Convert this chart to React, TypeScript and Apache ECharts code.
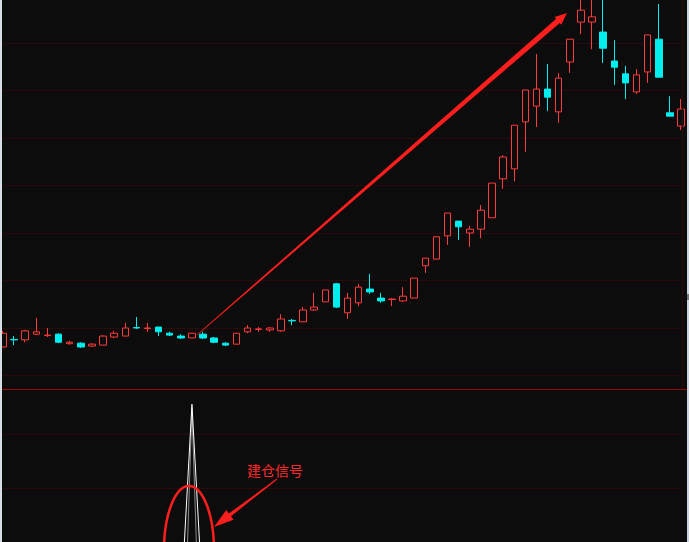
import React, { useEffect, useRef } from "react";
import * as echarts from "echarts";

// 62 trading days
const categories: string[] = Array.from({ length: 62 }, (_, i) => `D${i + 1}`);

// [open, close, lowest, highest]
const candles: number[][] = [
  [10.60, 10.89, 10.60, 10.94],
  [10.76, 10.75, 10.64, 10.83],
  [10.75, 10.94, 10.70, 10.96],
  [10.87, 10.92, 10.85, 11.21],
  [10.84, 10.85, 10.81, 11.00],
  [10.87, 10.70, 10.68, 10.89],
  [10.67, 10.70, 10.65, 10.73],
  [10.68, 10.60, 10.58, 10.70],
  [10.62, 10.66, 10.60, 10.68],
  [10.64, 10.83, 10.64, 10.85],
  [10.81, 10.89, 10.79, 10.94],
  [10.83, 11.00, 10.83, 11.11],
  [11.01, 11.00, 10.98, 11.23],
  [10.99, 11.00, 10.92, 11.11],
  [11.02, 10.92, 10.83, 11.02],
  [10.89, 10.85, 10.83, 10.92],
  [10.83, 10.79, 10.77, 10.87],
  [10.79, 10.89, 10.79, 10.89],
  [10.87, 10.79, 10.77, 10.92],
  [10.79, 10.70, 10.68, 10.81],
  [10.68, 10.64, 10.62, 10.70],
  [10.66, 10.89, 10.66, 10.89],
  [10.92, 11.00, 10.89, 11.06],
  [10.97, 10.98, 10.92, 11.02],
  [10.96, 11.00, 10.92, 11.02],
  [10.94, 11.19, 10.92, 11.29],
  [11.16, 11.15, 11.06, 11.19],
  [11.13, 11.38, 11.13, 11.44],
  [11.38, 11.44, 11.36, 11.74],
  [11.55, 11.80, 11.55, 11.80],
  [11.93, 11.44, 11.42, 11.95],
  [11.32, 11.63, 11.19, 11.74],
  [11.53, 11.86, 11.46, 11.93],
  [11.82, 11.76, 11.72, 12.14],
  [11.63, 11.57, 11.53, 11.74],
  [11.60, 11.61, 11.46, 11.63],
  [11.57, 11.67, 11.55, 11.86],
  [11.63, 12.05, 11.63, 12.05],
  [12.31, 12.47, 12.16, 12.47],
  [12.45, 12.92, 12.45, 12.92],
  [12.94, 13.42, 12.75, 13.42],
  [13.25, 13.13, 12.85, 13.25],
  [13.00, 13.08, 12.71, 13.15],
  [13.08, 13.48, 12.89, 13.59],
  [13.32, 14.05, 13.32, 14.05],
  [14.14, 14.60, 13.93, 14.64],
  [14.35, 15.27, 14.09, 15.27],
  [15.34, 16.01, 14.71, 16.01],
  [15.67, 16.03, 15.23, 16.77],
  [16.03, 15.86, 15.57, 16.56],
  [15.55, 16.26, 15.32, 16.37],
  [16.60, 17.08, 16.37, 17.08],
  [17.44, 17.69, 17.19, 18.00],
  [17.44, 17.55, 16.87, 18.00],
  [17.23, 16.89, 16.58, 18.00],
  [16.62, 16.49, 16.12, 17.06],
  [16.35, 16.16, 15.82, 16.52],
  [15.97, 16.33, 15.93, 16.45],
  [16.39, 17.17, 16.16, 17.17],
  [17.08, 16.28, 16.28, 17.82],
  [15.53, 15.46, 15.46, 15.88],
  [15.25, 15.61, 15.17, 15.82],
];

// lower indicator (signal spike)
const signalMain: number[] = [
  -2, -2, -2, -2, -2, -2, -2, -2, -2, -2, -2, -2, -2, -2, -2, -2, -1.2, 2.55, -1.2, -2,
  -2, -2, -2, -2, -2, -2, -2, -2, -2, -2, -2, -2, -2, -2, -2, -2, -2, -2, -2, -2,
  -2, -2, -2, -2, -2, -2, -2, -2, -2, -2, -2, -2, -2, -2, -2, -2, -2, -2, -2, -2,
  -2, -2,
];
const signalInner: number[] = [
  -4, -4, -4, -4, -4, -4, -4, -4, -4, -4, -4, -4, -4, -4, -4, -4, -3.8, 2.48, -3.8, -4,
  -4, -4, -4, -4, -4, -4, -4, -4, -4, -4, -4, -4, -4, -4, -4, -4, -4, -4, -4, -4,
  -4, -4, -4, -4, -4, -4, -4, -4, -4, -4, -4, -4, -4, -4, -4, -4, -4, -4, -4, -4,
  -4, -4,
];

const signalLabel = "建仓信号";

function arrowPoints(
  x1: number, y1: number, x2: number, y2: number,
  wTail: number, wShaft: number, headLen: number, headW: number
): number[][] {
  const dx = x2 - x1;
  const dy = y2 - y1;
  const L = Math.sqrt(dx * dx + dy * dy);
  const ux = dx / L, uy = dy / L;
  const nx = -uy, ny = ux;
  const bx = x2 - ux * headLen, by = y2 - uy * headLen;
  return [
    [x1 + nx * wTail / 2, y1 + ny * wTail / 2],
    [bx + nx * wShaft / 2, by + ny * wShaft / 2],
    [bx + nx * headW / 2, by + ny * headW / 2],
    [x2, y2],
    [bx - nx * headW / 2, by - ny * headW / 2],
    [bx - nx * wShaft / 2, by - ny * wShaft / 2],
    [x1 - nx * wTail / 2, y1 - ny * wTail / 2],
  ];
}

const gridColor = "#2c090b";
const RED = "#ff3a3a";
const CYAN = "#00eeee";

export default function App() {
  const ref = useRef<HTMLDivElement>(null);
  useEffect(() => {
    if (!ref.current) return;
    const chart = echarts.init(ref.current, null, { renderer: "svg" });
    const hiddenX = (gi: number) => ({
      type: "category",
      gridIndex: gi,
      data: categories,
      boundaryGap: false,
      axisLine: { show: false },
      axisTick: { show: false },
      axisLabel: { show: false },
      splitLine: { show: false },
    });
    const hiddenY = (gi: number, min: number, max: number) => ({
      type: "value",
      gridIndex: gi,
      min,
      max,
      interval: 1,
      axisLine: { show: false },
      axisTick: { show: false },
      axisLabel: { show: false },
      splitLine: {
        show: true,
        showMaxLine: false,
        lineStyle: { color: gridColor, width: 1 },
      },
    });
    chart.setOption({
      animation: false,
      backgroundColor: "#0c0c0c",
      grid: [
        { left: 3, width: 678, top: 0, height: 375.5 },
        { left: 3, width: 678, top: 390, height: 152 },
      ],
      xAxis: [hiddenX(0), hiddenX(1)],
      yAxis: [hiddenY(0, 10, 17.905), hiddenY(1, 0, 2.815)],
      series: [
        {
          type: "candlestick",
          xAxisIndex: 0,
          yAxisIndex: 0,
          data: candles,
          barWidth: 7,
          clip: false,
          itemStyle: {
            color: "#0c0c0c",
            color0: CYAN,
            borderColor: RED,
            borderColor0: CYAN,
            borderWidth: 1,
          },
        },
        {
          type: "line",
          xAxisIndex: 1,
          yAxisIndex: 1,
          data: signalInner,
          symbol: "none",
          clip: false,
          lineStyle: { color: "#8a8a8a", width: 1 },
        },
        {
          type: "line",
          xAxisIndex: 1,
          yAxisIndex: 1,
          data: signalMain,
          symbol: "none",
          clip: false,
          lineStyle: { color: "#ffffff", width: 1 },
        },
      ],
      graphic: [
        {
          type: "line",
          z: 100,
          shape: { x1: 0, y1: 389.5, x2: 689, y2: 389.5 },
          style: { stroke: "#9a0a0a", lineWidth: 1 },
        },
        {
          type: "line",
          z: 100,
          shape: { x1: 682.5, y1: 0, x2: 682.5, y2: 389 },
          style: { stroke: gridColor, lineWidth: 1 },
        },
        {
          type: "polygon",
          z: 100,
          shape: { points: arrowPoints(197, 335, 567, 13, 0.8, 5.5, 12, 10) },
          style: { fill: "#ff1e1e" },
        },
        {
          type: "ellipse",
          z: 100,
          shape: { cx: 189, cy: 550, rx: 25, ry: 64 },
          style: { fill: "none", stroke: "#ff1e1e", lineWidth: 2.5 },
        },
        {
          type: "polygon",
          z: 100,
          shape: { points: arrowPoints(277, 479, 214, 527, 1, 3.5, 20, 12) },
          style: { fill: "#ff1e1e" },
        },
        {
          type: "text",
          z: 100,
          x: 247,
          y: 463,
          style: {
            text: signalLabel,
            fill: "#ff2a2a",
            fontSize: 14,
            fontFamily: "Noto Sans CJK SC",
          },
        },
        {
          type: "rect",
          z: 100,
          shape: { x: 0, y: 0, width: 2, height: 542 },
          style: { fill: "#d6dde6" },
        },
        {
          type: "rect",
          z: 100,
          shape: { x: 687, y: 0, width: 2, height: 542 },
          style: { fill: "#c9d1dc" },
        },
        {
          type: "rect",
          z: 101,
          shape: { x: 687, y: 294, width: 2, height: 6 },
          style: { fill: "#777777" },
        },
      ],
    });
    return () => chart.dispose();
  }, []);
  return (
    <div
      ref={ref}
      style={{ position: "absolute", left: 0, top: 0, width: 689, height: 542 }}
    />
  );
}
